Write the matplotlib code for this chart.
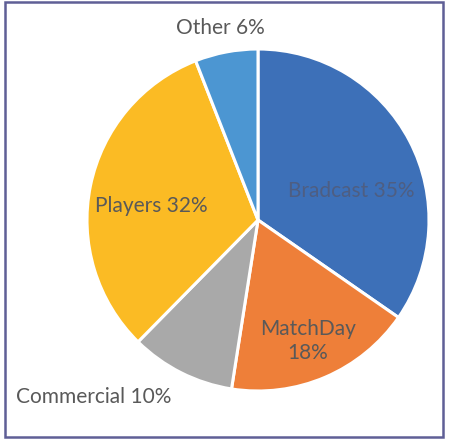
import matplotlib

matplotlib.use("Agg")
import matplotlib.pyplot as plt
from matplotlib.patches import Rectangle

# slice data, clockwise from 12 o'clock
labels = ["Bradcast", "MatchDay", "Commercial", "Players", "Other"]
shares = [35, 18, 10, 32, 6]
colors = ["#3D70B8", "#EE7F39", "#A9A9A9", "#FBBB24", "#4C96D2"]

# label text and where it sits (in pie-radius units, centre = 0,0)
label_text = ["Bradcast 35%", "MatchDay\n18%", "Commercial 10%", "Players 32%", "Other 6%"]
label_pos = [(0.544, 0.170), (0.292, -0.708), (-0.959, -1.035), (-0.626, 0.082), (-0.222, 1.123)]
label_color = ["#4E5E82", "#595959", "#595959", "#595959", "#595959"]

W, H, DPI = 450, 441, 100
CX, CY, R = 258, 220, 171  # pixel centre (from top-left) and radius

fig = plt.figure(figsize=(W / DPI, H / DPI), dpi=DPI, facecolor="white")
ax = fig.add_axes([0, 0, 1, 1])
ax.set_xlim(-CX / R, (W - CX) / R)
ax.set_ylim(-(H - CY) / R, CY / R)
ax.set_aspect("auto")
ax.axis("off")

ax.pie(
    shares,
    colors=colors,
    startangle=90,
    counterclock=False,
    radius=1.0,
    wedgeprops=dict(edgecolor="white", linewidth=2.2),
)
ax.set_xlim(-CX / R, (W - CX) / R)
ax.set_ylim(-(H - CY) / R, CY / R)

for txt, (x, y), c in zip(label_text, label_pos, label_color):
    ax.text(x, y, txt, ha="center", va="center", fontsize=15, color=c,
            family="Lato", linespacing=1.25)

# outer frame
fig.patches.append(Rectangle((5 / W, 4 / H), 438 / W, 435 / H, transform=fig.transFigure,
                             fill=False, edgecolor="#5F5F96", linewidth=1.8))

fig.savefig("out.png", dpi=DPI, facecolor="white")
